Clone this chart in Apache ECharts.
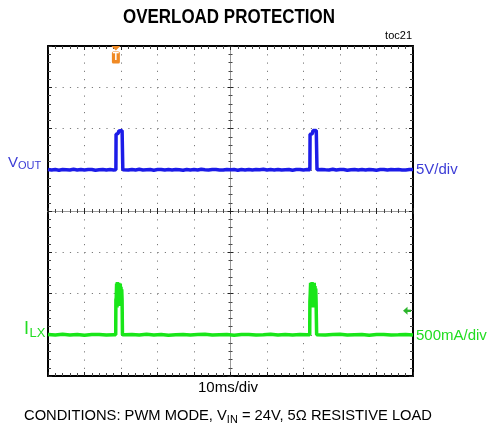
<!DOCTYPE html>
<html><head><meta charset="utf-8">
<script src="https://cdn.jsdelivr.net/npm/echarts@6/dist/echarts.min.js"></script>
<style>html,body{margin:0;padding:0;background:#fff}#c{width:487px;height:429px}</style>
</head><body><div id="c"></div>
<script>
// ---- data (time in ms, Vout in V, ILX in A) ----
const voutBase1Start = 0;   // 1 ms samples
const voutBase1 = [0.04,-0.04,0.02,-0.05,0.04,0,-0.04,0.05,-0.02,0.04,-0.04,0.02,0.04,-0.05,0,0.04,-0.04,0.02,-0.02];
const voutPulse1T = [18.6,18.65,19.2,19.4,20.3,20.4,20.5];
const voutPulse1V = [0,4.3,4.4,4.7,4.75,4.6,0];
const voutBase2Start = 21;
const voutBase2 = [0.02,-0.04,0.04,-0.02,0.05,-0.04,0,0.04,-0.05,0.02,0.04,-0.04,0.02,-0.02,0.04,0,-0.05,0.04,-0.02,0.02,-0.04,0.05,0,-0.04,0.02,0.04,-0.02,-0.04,0.04,0,0.02,-0.05,0.04,-0.02,0.04,-0.04,0.02,0,0.05,-0.04,0.02,-0.02,0.04,-0.04,0,0.04,-0.05,0.02,0.04,-0.02,0.02];
const voutPulse2T = [71.75,71.8,72.4,72.6,73.5,73.6,73.7];
const voutPulse2V = [0,4.3,4.35,4.75,4.75,4.6,0];
const voutBase3Start = 74;
const voutBase3 = [-0.04,0.04,0,-0.02,0.05,-0.04,0.02,0.04,-0.05,0,0.04,-0.02,0.02,-0.04,0.04,0,-0.05,0.02,0.04,-0.04,0.02,0,0.04,-0.02,-0.04,0.02,0.04];

const ilxBase1Start = 0;    // 2 ms samples
const ilxBase1 = [0.004,-0.004,0.006,-0.002,0.004,-0.006,0.002,0.004,-0.004,0];
const ilxPulse1T = [18.55,18.6,18.7,18.8,18.9,19.0,19.1,19.2,19.3,19.4,19.5,19.6,19.7,19.8,19.9,20.0,20.1,20.2,20.3,20.4];
const ilxPulse1V = [0,0.42,0.45,0.62,0.33,0.64,0.36,0.61,0.40,0.63,0.35,0.60,0.42,0.62,0.38,0.58,0.45,0.55,0.42,0];
const ilxBase2Start = 21;
const ilxBase2 = [0,0.004,-0.004,0.006,-0.002,0.004,-0.006,0,0.004,-0.004,0.002,0.006,-0.004,0,0.004,-0.006,0.002,0.004,-0.002,0,0.006,-0.004,0.004,-0.002,0.002,0];
const ilxPulse2T = [71.7,71.75,71.85,71.95,72.05,72.15,72.25,72.35,72.45,72.55,72.65,72.75,72.85,72.95,73.05,73.15,73.25,73.35,73.45,73.6];
const ilxPulse2V = [0,0.40,0.50,0.63,0.34,0.62,0.37,0.64,0.39,0.61,0.33,0.60,0.41,0.63,0.36,0.59,0.44,0.56,0.40,0];
const ilxBase3Start = 74;
const ilxBase3 = [0.004,-0.004,0.002,0.006,-0.004,0,0.004,-0.006,0.002,0.004,-0.002,0,0.004,-0.004];

const triggerTime = 18.6;   // ms
const triggerLevel = 0.29;  // A

const titleText = 'OVERLOAD PROTECTION';
const tocText = 'toc21';
const xScaleText = '10ms/div';
const voutScaleText = '5V/div';
const ilxScaleText = '500mA/div';

// ---- build series ----
function seg(start, step, vals){ return vals.map((v,i)=>[start+i*step, v]); }
function pulse(ts, vs){ return ts.map((t,i)=>[t, vs[i]]); }
const voutData = [].concat(seg(voutBase1Start,1,voutBase1), pulse(voutPulse1T,voutPulse1V),
  seg(voutBase2Start,1,voutBase2), pulse(voutPulse2T,voutPulse2V), seg(voutBase3Start,1,voutBase3));
const ilxData = [].concat(seg(ilxBase1Start,2,ilxBase1), pulse(ilxPulse1T,ilxPulse1V),
  seg(ilxBase2Start,2,ilxBase2), pulse(ilxPulse2T,ilxPulse2V), seg(ilxBase3Start,2,ilxBase3));

const BLUE = '#1c1ce8', GREEN = '#19e619', BLUE_T = '#3c3cd6', GREEN_T = '#22dd22';
const FONT = '"Liberation Sans", Arial, sans-serif';
const GL = 48, GT = 46, GW = 365, GH = 330;

function decoX(pos, inside, offset, lineColor, lw, len){
  return { type:'value', position:pos, offset:offset||0, min:0, max:100, interval:10,
    axisLine:{show:true, onZero:false, lineStyle:{color:lineColor, width:lw}},
    axisTick:{show:true, inside:inside, length:len+1, lineStyle:{color:'#222', width:1}},
    minorTick:{show:true, splitNumber:5, length:len, lineStyle:{color:'#444', width:1}},
    axisLabel:{show:false}, splitLine:{show:false} };
}
function decoY(pos, inside, offset, lineColor, lw, len, min, max, interval){
  return { type:'value', position:pos, offset:offset||0, min:min, max:max, interval:interval,
    axisLine:{show:true, onZero:false, lineStyle:{color:lineColor, width:lw}},
    axisTick:{show:true, inside:inside, length:len+1, lineStyle:{color:'#222', width:1}},
    minorTick:{show:true, splitNumber:5, length:len, lineStyle:{color:'#444', width:1}},
    axisLabel:{show:false}, splitLine:{show:false} };
}

const xMain = decoX('bottom', true, 0, '#000', 2, 3);
xMain.splitLine = {show:true, lineStyle:{color:'#7a7a7a', width:1, type:[1.2, 7.05]}};
const yMain = decoY('left', true, 0, '#000', 2, 3, -25, 15, 5);
yMain.splitLine = {show:true, lineStyle:{color:'#7a7a7a', width:1, type:[1.2, 6.1]}};

const option = {
  animation:false,
  backgroundColor:'#fff',
  grid:{left:GL, top:GT, width:GW, height:GH, show:false},
  xAxis:[ xMain,
    decoX('top', true, 0, '#000', 2, 3),
    decoX('bottom', true, -GH/2, '#9a9a9a', 1, 2),
    decoX('bottom', false, -GH/2, '#9a9a9a', 1, 2) ],
  yAxis:[ yMain,
    decoY('right', true, 0, '#000', 2, 3, -0.5, 3.5, 0.5),
    decoY('left', true, -GW/2, '#9a9a9a', 1, 2, -25, 15, 5),
    decoY('left', false, -GW/2, '#9a9a9a', 1, 2, -25, 15, 5) ],
  series:[
    {type:'line', name:'VOUT', xAxisIndex:0, yAxisIndex:0, data:voutData, showSymbol:false,
     lineStyle:{color:BLUE, width:3.5}, z:5},
    {type:'line', name:'ILX', xAxisIndex:0, yAxisIndex:1, data:ilxData, showSymbol:false,
     lineStyle:{color:GREEN, width:3.5}, z:5}
  ]
};
const chart = echarts.init(document.getElementById('c'), null, {renderer:'canvas'});
chart.setOption(option);

// ---- annotations ----
const mctx = document.createElement('canvas').getContext('2d');
function tw(t, size, weight){ mctx.font = (weight||'normal')+' '+size+'px '+FONT; return mctx.measureText(t).width; }

const tx = chart.convertToPixel({xAxisIndex:0}, triggerTime);
const ty = chart.convertToPixel({yAxisIndex:1}, triggerLevel);
const vZero = chart.convertToPixel({yAxisIndex:0}, 0);
const iZero = chart.convertToPixel({yAxisIndex:1}, 0);

function txt(text, x, y, size, color, align, weight, sx){
  return {type:'text', z:10, x:x, y:y, scaleX:sx||1,
    style:{text:text, x:0, y:0, fontSize:size, fontFamily:FONT,
    fontWeight:weight||'normal', fill:color, align:align||'left', verticalAlign:'middle'}};
}
// title, condensed
const tSize = 20.5, tScale = 212 / tw(titleText, tSize, 'bold');
// conditions line, condensed
const condA = 'CONDITIONS: PWM MODE, V', condB = 'IN', condC = ' = 24V, 5\u03A9 RESISTIVE LOAD';
const cs = 15.5, cbs = 11.5, cx0 = 24, cy = 416;
const wA = tw(condA, cs), wB = tw(condB, cbs), wC = tw(condC, cs);
const cScale = 408 / (wA + wB + wC);

const g = [
  txt(titleText, 229, 17, tSize, '#000', 'center', 'bold', tScale),
  txt(tocText, 412, 36, 11, '#000', 'right'),
  txt('V', 8, vZero-7, 15, BLUE_T),
  txt('OUT', 8+tw('V',15), vZero-4, 11, BLUE_T),
  txt(voutScaleText, 416, vZero, 15, BLUE_T),
  txt('I', 24, iZero-6, 18, GREEN_T),
  txt('LX', 24+tw('I',18)+0.5, iZero-1.5, 13, GREEN_T),
  txt(ilxScaleText, 416, iZero+1.5, 15, GREEN_T),
  txt(xScaleText, 228, 388, 15, '#000', 'center'),
  txt(condA, cx0, cy, cs, '#000', 'left', 'normal', cScale),
  txt(condB, cx0 + wA*cScale, cy+4, cbs, '#000', 'left', 'normal', cScale),
  txt(condC, cx0 + (wA+wB)*cScale, cy, cs, '#000', 'left', 'normal', cScale),
  // trigger time marker
  {type:'polygon', z:10, shape:{points:[[tx-4.5,GT],[tx+4.5,GT],[tx,GT+4.5]]}, style:{fill:'#f08a24'}},
  {type:'rect', z:10, shape:{x:tx-4,y:GT+5.5,width:8,height:12,r:1.5}, style:{fill:'#f08a24'}},
  txt('T', tx, GT+11.5, 10, '#fff', 'center', 'bold'),
  // trigger level marker (ILX)
  {type:'polygon', z:10, shape:{points:[[GL+GW-10,ty],[GL+GW-5.5,ty-4],[GL+GW-5.5,ty+4]]}, style:{fill:'#2cb52c'}},
  {type:'rect', z:10, shape:{x:GL+GW-6,y:ty-1.2,width:4,height:2.4}, style:{fill:'#2cb52c'}}
];
chart.setOption({graphic:g});
</script></body></html>
